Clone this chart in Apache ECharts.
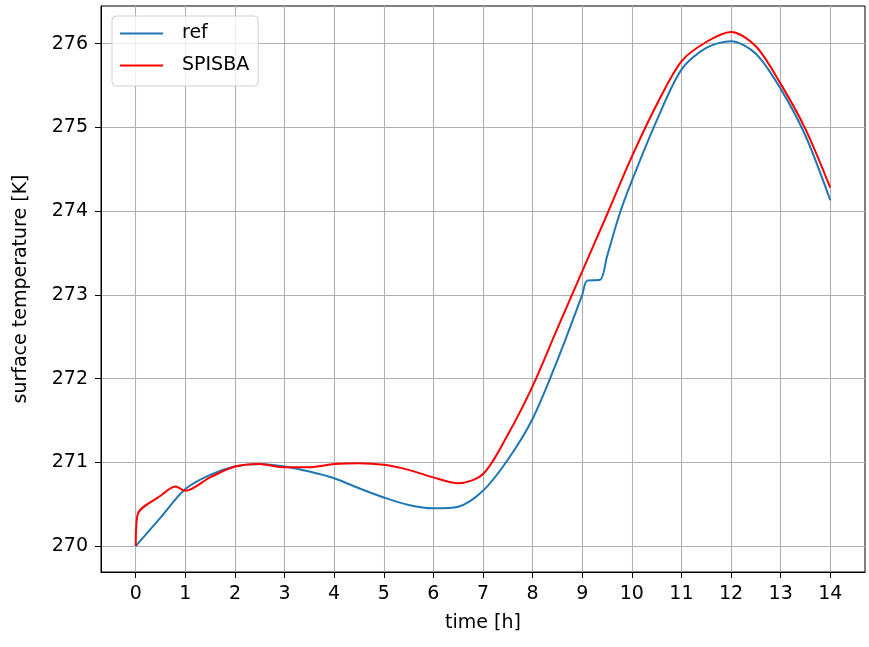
<!DOCTYPE html>
<html>
<head>
<meta charset="utf-8">
<title>surface temperature</title>
<script src="https://cdn.jsdelivr.net/npm/echarts@6/dist/echarts.min.js"></script>
<style>
  html, body { margin: 0; padding: 0; background: #fff; }
  #chart { width: 869px; height: 647px; }
</style>
</head>
<body>
<div id="chart"></div>
<script>
// 数据：ref
var refTime = [0, 0.5, 1, 1.5, 2, 2.5, 3, 3.5, 4, 4.5, 5, 5.5, 6, 6.5, 7, 7.5, 8, 8.5, 9, 9.1, 9.36, 9.5, 9.75, 10, 10.5, 11, 11.5, 12, 12.5, 13, 13.5, 14];
var refTemp = [270.0, 270.34, 270.68, 270.85, 270.95, 270.98, 270.95, 270.89, 270.81, 270.69, 270.58, 270.49, 270.45, 270.47, 270.66, 271.03, 271.52, 272.22, 273.0, 273.17, 273.18, 273.46, 273.96, 274.36, 275.08, 275.69, 275.95, 276.03, 275.88, 275.46, 274.9, 274.13];

// 数据：SPISBA
var spTime = [0, 0.04, 0.5, 0.8, 1.0, 1.5, 2, 2.5, 3, 3.5, 4, 4.5, 5, 5.5, 6, 6.5, 7, 7.5, 8, 8.5, 9, 9.5, 10, 10.5, 11, 11.5, 12, 12.5, 13, 13.5, 14];
var spTemp = [270.0, 270.38, 270.6, 270.71, 270.66, 270.82, 270.95, 270.98, 270.94, 270.94, 270.98, 270.99, 270.97, 270.91, 270.82, 270.75, 270.86, 271.33, 271.91, 272.6, 273.28, 273.96, 274.65, 275.27, 275.79, 276.02, 276.14, 275.97, 275.52, 274.98, 274.28];

// 刻度
var xTicks = [0, 1, 2, 3, 4, 5, 6, 7, 8, 9, 10, 11, 12, 13, 14];
var yTicks = [270, 271, 272, 273, 274, 275, 276];

function pairs(xs, ys) {
  var out = [];
  for (var i = 0; i < xs.length; i++) out.push([xs[i], ys[i]]);
  return out;
}

var chartObj = echarts.init(document.getElementById('chart'));
var font = 'DejaVu Sans';
var fs = 19;

var option = {
  animation: false,
  textStyle: { fontFamily: font },
  grid: {
    left: 101, right: 4, top: 6, bottom: 75,
    show: true, borderColor: '#000', borderWidth: 1, backgroundColor: '#fff'
  },
  legend: {
    left: 112, top: 16,
    orient: 'vertical',
    itemWidth: 43, itemHeight: 2, itemGap: 13,
    icon: 'rect',
    padding: [8, 9, 11, 8],
    backgroundColor: 'rgba(255,255,255,0.8)',
    borderColor: '#d0d0d0', borderWidth: 1, borderRadius: 4,
    textStyle: { fontFamily: font, fontSize: fs, color: '#000', padding: [0, 0, 0, 14] },
    data: ['ref', 'SPISBA']
  },
  xAxis: {
    type: 'value',
    min: -0.7, max: 14.7,
    name: 'time [h]',
    nameLocation: 'middle', nameGap: 42,
    nameTextStyle: { fontFamily: font, fontSize: fs, color: '#000' },
    axisLine: { show: true, onZero: false, lineStyle: { color: '#000', width: 1 } },
    axisTick: { show: true, length: 6, customValues: xTicks, lineStyle: { color: '#000' } },
    axisLabel: { customValues: xTicks, fontFamily: font, fontSize: fs, color: '#000', margin: 13 },
    splitLine: { show: true, lineStyle: { color: '#b0b0b0', width: 1.1 } }
  },
  yAxis: {
    type: 'value',
    min: 269.69, max: 276.45,
    name: 'surface temperature [K]',
    nameLocation: 'middle', nameGap: 70,
    nameTextStyle: { fontFamily: font, fontSize: fs, color: '#000' },
    axisLine: { show: true, onZero: false, lineStyle: { color: '#000', width: 1 } },
    axisTick: { show: true, length: 6, customValues: yTicks, lineStyle: { color: '#000' } },
    axisLabel: { customValues: yTicks, fontFamily: font, fontSize: fs, color: '#000', margin: 13,
      formatter: function (v) { return Math.round(v).toString(); } },
    splitLine: { show: true, lineStyle: { color: '#b0b0b0', width: 1.1 } }
  },
  series: [
    {
      name: 'ref', type: 'line',
      data: pairs(refTime, refTemp),
      showSymbol: false, smooth: 0.3,
      itemStyle: { color: '#1f77b4' },
      lineStyle: { color: '#1f77b4', width: 2 }
    },
    {
      name: 'SPISBA', type: 'line',
      data: pairs(spTime, spTemp),
      showSymbol: false, smooth: 0.3,
      itemStyle: { color: '#ff0000' },
      lineStyle: { color: '#ff0000', width: 2 }
    }
  ]
};
chartObj.setOption(option);
</script>
</body>
</html>
